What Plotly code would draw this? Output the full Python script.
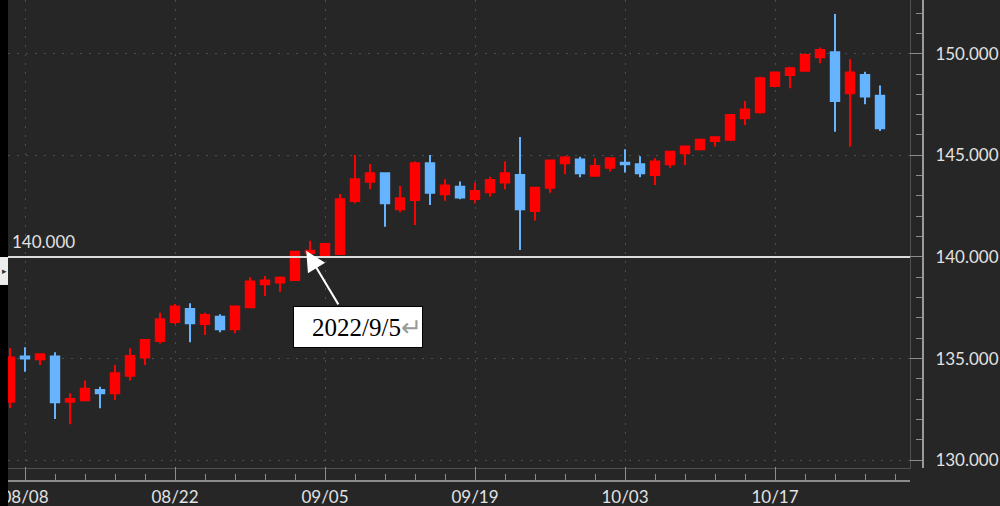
import plotly.graph_objects as go
import pandas as pd

# ---------------- data ----------------
dates = [
    "2022-08-05", "2022-08-08", "2022-08-09", "2022-08-10", "2022-08-11", "2022-08-12",
    "2022-08-15", "2022-08-16", "2022-08-17", "2022-08-18", "2022-08-19",
    "2022-08-22", "2022-08-23", "2022-08-24", "2022-08-25", "2022-08-26",
    "2022-08-29", "2022-08-30", "2022-08-31", "2022-09-01", "2022-09-02",
    "2022-09-05", "2022-09-06", "2022-09-07", "2022-09-08", "2022-09-09",
    "2022-09-12", "2022-09-13", "2022-09-14", "2022-09-15", "2022-09-16",
    "2022-09-19", "2022-09-20", "2022-09-21", "2022-09-22", "2022-09-23",
    "2022-09-26", "2022-09-27", "2022-09-28", "2022-09-29", "2022-09-30",
    "2022-10-03", "2022-10-04", "2022-10-05", "2022-10-06", "2022-10-07",
    "2022-10-10", "2022-10-11", "2022-10-12", "2022-10-13", "2022-10-14",
    "2022-10-17", "2022-10-18", "2022-10-19", "2022-10-20", "2022-10-21",
    "2022-10-24", "2022-10-25", "2022-10-26",
]
opens = [
    132.88, 135.10, 134.97, 135.10, 132.88, 132.95,
    133.46, 133.30, 134.16, 135.05, 135.87,
    136.80, 137.44, 136.70, 137.06, 136.44,
    137.53, 138.66, 138.74, 138.87, 140.20,
    140.10, 140.15, 142.75, 143.70, 144.12,
    142.35, 142.80, 144.61, 143.08, 143.46,
    142.85, 143.18, 143.66, 144.03, 142.26,
    143.41, 144.61, 144.80, 144.00, 144.39,
    144.63, 144.56, 144.03, 144.56, 145.10,
    145.30, 145.71, 145.76, 146.82, 147.12,
    148.41, 148.95, 149.16, 149.82, 150.07,
    148.05, 148.95, 147.93,
]
highs = [
    135.52, 135.56, 135.25, 135.31, 133.30, 133.92,
    133.62, 134.69, 135.51, 135.95, 137.26,
    137.69, 137.72, 137.26, 137.18, 137.59,
    139.00, 139.07, 139.05, 140.28, 140.80,
    140.70, 143.10, 145.02, 144.57, 144.15,
    143.49, 144.69, 145.02, 143.82, 143.71,
    143.66, 143.95, 144.69, 145.90, 143.45,
    144.78, 144.97, 144.93, 144.85, 144.88,
    145.30, 144.95, 144.85, 145.20, 145.45,
    145.80, 145.92, 147.00, 147.67, 148.87,
    149.10, 149.36, 150.02, 150.30, 151.95,
    149.72, 149.11, 148.43,
]
lows = [
    132.57, 134.36, 134.69, 132.03, 131.77, 132.92,
    132.56, 132.97, 133.92, 134.69, 135.75,
    136.70, 135.80, 136.16, 136.30, 136.25,
    137.50, 138.08, 138.29, 138.85, 140.05,
    140.05, 140.10, 142.64, 143.33, 141.49,
    142.20, 141.57, 142.56, 142.77, 142.84,
    142.64, 142.97, 143.33, 140.34, 141.80,
    143.16, 144.07, 143.92, 143.98, 144.20,
    144.15, 143.92, 143.54, 144.39, 144.53,
    145.28, 145.43, 145.70, 146.49, 147.05,
    148.35, 148.30, 149.11, 149.53, 146.16,
    145.43, 147.51, 146.20,
]
closes = [
    135.05, 135.00, 135.21, 132.85, 133.01, 133.52,
    133.30, 134.28, 135.13, 135.92, 136.94,
    137.56, 136.74, 137.15, 136.44, 137.56,
    138.79, 138.84, 138.98, 140.26, 140.30,
    140.64, 142.84, 143.82, 144.12, 142.64,
    142.89, 144.61, 143.16, 143.51, 142.92,
    143.25, 143.79, 144.12, 142.35, 143.41,
    144.74, 144.89, 144.12, 144.48, 144.85,
    144.56, 144.12, 144.69, 145.18, 145.43,
    145.76, 145.89, 146.98, 147.26, 148.79,
    149.07, 149.28, 149.94, 150.18, 147.67,
    149.07, 147.89, 146.33,
]
major_ticks = ["2022-08-08", "2022-08-22", "2022-09-05", "2022-09-19", "2022-10-03", "2022-10-17"]
level = 140.0
level_label = "140.000"
note_text = "2022/9/5"
note_target = ("2022-09-01 18:00:00", 140.3)
x_range = ["2022-08-04 20:48:00", "2022-10-28 00:00:00"]
y_range = [129.62, 152.64]

# ---------------- layout geometry ----------------
W, H = 1000, 506
ml, mr, mt, mb = 8, 77, 0, 25
pw = W - ml - mr
ph = H - mt - mb
x_dom_end = (910 - ml) / pw
y_dom_start = (481 - 468) / ph

bdays = pd.bdate_range("2022-08-08", "2022-10-28")
minor_ticks = [d.strftime("%Y-%m-%d") for i, d in enumerate(bdays)
               if i % 2 == 0 and d.strftime("%Y-%m-%d") not in major_ticks]

BG = "#262626"
UP = "#ff0000"
DOWN = "#66b3ff"
GRID = "#4e4e4e"
AX = "#8c8c8c"
LABEL = "#e2e2e2"
FONT = "Lato"

fig = go.Figure()
fig.add_trace(go.Candlestick(
    x=dates, open=opens, high=highs, low=lows, close=closes,
    increasing=dict(line=dict(color=UP, width=2), fillcolor=UP),
    decreasing=dict(line=dict(color=DOWN, width=2), fillcolor=DOWN),
    whiskerwidth=0, showlegend=False, hoverinfo="skip",
))
# invisible helper trace so the outer tick axes are drawn
fig.add_trace(go.Scatter(
    x=dates, y=closes, xaxis="x2", yaxis="y2", mode="lines",
    line=dict(width=0), opacity=0, showlegend=False, hoverinfo="skip",
))

rb = [dict(bounds=["sat", "mon"])]

fig.update_layout(
    template="none",
    width=W, height=H,
    margin=dict(l=ml, r=mr, t=mt, b=mb, pad=0),
    paper_bgcolor=BG, plot_bgcolor=BG,
    boxgap=0.25, boxgroupgap=0.25,
    font=dict(family=FONT, color=LABEL, size=17),
    xaxis=dict(
        domain=[0, x_dom_end], range=x_range, rangebreaks=rb, automargin=False,
        rangeslider=dict(visible=False),
        tickmode="array", tickvals=major_ticks, showticklabels=False, ticks="",
        showgrid=True, gridcolor=GRID, griddash="2px,7px", gridwidth=1,
        showline=True, linecolor="#505050", linewidth=1, zeroline=False,
    ),
    xaxis2=dict(
        overlaying="x", anchor="free", position=0, range=x_range, rangebreaks=rb,
        automargin=False,
        tickmode="array", tickvals=major_ticks, tickformat="%m/%d",
        ticks="inside", ticklen=13, tickwidth=1, tickcolor=AX,
        minor=dict(tickmode="array", tickvals=minor_ticks, ticks="inside",
                   ticklen=6, tickwidth=1, tickcolor=AX, showgrid=False),
        showgrid=False, showline=True, linecolor=AX, linewidth=2, zeroline=False,
        tickfont=dict(family=FONT, size=17, color=LABEL),
        ticklabelstandoff=1,
    ),
    yaxis=dict(
        domain=[y_dom_start, 1], range=y_range, side="right", automargin=False,
        tickmode="linear", tick0=130, dtick=5, showticklabels=False, ticks="",
        showgrid=True, gridcolor=GRID, griddash="2px,7px", gridwidth=1,
        showline=True, linecolor="#505050", linewidth=1, zeroline=False,
    ),
    yaxis2=dict(
        overlaying="y", anchor="free", position=1, side="right", range=y_range,
        automargin=False,
        tickmode="linear", tick0=130, dtick=5, tickformat=".3f",
        ticks="inside", ticklen=12, tickwidth=1, tickcolor=AX,
        minor=dict(dtick=1, ticks="inside", ticklen=6, tickwidth=1,
                   tickcolor=AX, showgrid=False),
        showgrid=False, showline=True, linecolor="#9a9a9a", linewidth=2,
        zeroline=False,
        tickfont=dict(family=FONT, size=17, color=LABEL),
        ticklabelstandoff=8,
    ),
    shapes=[
        dict(type="line", xref="x domain", yref="y", x0=0, x1=1, y0=level, y1=level,
             line=dict(color="#dcdcdc", width=2), layer="above"),
        dict(type="rect", xref="paper", yref="paper", x0=-ml / pw, x1=0,
             y0=-mb / ph, y1=1, fillcolor="#000000", line=dict(width=0), layer="above"),
        dict(type="rect", xref="paper", yref="y", x0=-ml / pw, x1=0,
             y0=level - 28 / 20.33, y1=level, fillcolor="#ececec",
             line=dict(width=0), layer="above"),
    ],
    annotations=[
        dict(text=level_label, xref="paper", yref="y", x=2 / pw, y=level,
             xanchor="left", yanchor="bottom", yshift=3, showarrow=False,
             font=dict(family=FONT, size=17, color=LABEL)),
        dict(text="▸", xref="paper", yref="y", x=-4 / pw, y=level - 14 / 20.33,
             xanchor="center", yanchor="middle", showarrow=False,
             font=dict(size=9, color="#333333")),
        dict(text="", x=note_target[0], y=note_target[1], xref="x", yref="y",
             showarrow=True, ax=33, ay=55, axref="pixel", ayref="pixel",
             arrowhead=2, arrowsize=2, arrowwidth=2, arrowcolor="#ffffff"),
        dict(text=note_text + "<span style='color:#9a9a9a'>↵</span>",
             xref="paper", yref="paper",
             x=(358 - ml) / pw, y=(H - mb - 327) / ph,
             xanchor="center", yanchor="middle", showarrow=False,
             width=128, height=40, align="right",
             bgcolor="#ffffff", bordercolor="#000000", borderwidth=1, borderpad=0,
             font=dict(family="Liberation Serif", size=25, color="#000000")),
    ],
)

fig.write_html("out.html",
               config={"displayModeBar": False},
               post_script="document.body.style.margin='0';document.body.style.background='#262626';")
